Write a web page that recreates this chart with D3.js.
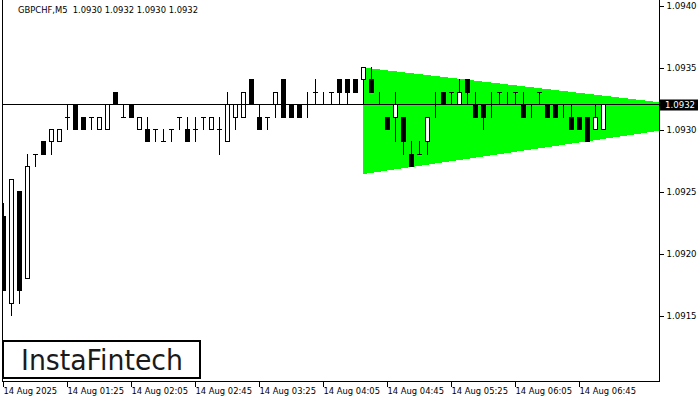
<!DOCTYPE html>
<html><head><meta charset="utf-8">
<script src="https://cdn.jsdelivr.net/npm/d3@7"></script>
<style>
html,body{margin:0;padding:0;background:#fff;}
svg{display:block;}
text{font-family:"DejaVu Sans",sans-serif;}
</style></head>
<body>
<svg id="chart" width="700" height="400"></svg>
<script>
// ---- data ----
const title = "GBPCHF,M5  1.0930 1.0932 1.0930 1.0932";
const opens  = [1.0923,1.0916,1.0925,1.0918,1.0928,1.0929,1.0929,1.0929,1.0931,1.0932,1.0931,1.0931,1.0930,1.0930,1.0933,1.0931,1.0932,1.0930,1.0930,1.0930,1.0929,1.0930,1.0931,1.0930,1.0930,1.0931,1.0930,1.0930,1.0929,1.0931,1.0931,1.0934,1.0931,1.0931,1.0932,1.0934,1.0932,1.0932,1.0932,1.0933,1.0932,1.0933,1.0934,1.0934,1.0934,1.0934,1.0934,1.0932,1.0931,1.0931,1.0931,1.0928,1.0928,1.0929,1.0932,1.0933,1.0933,1.0932,1.0934,1.0932,1.0932,1.0932,1.0933,1.0932,1.0933,1.0932,1.0932,1.0933,1.0932,1.0932,1.0932,1.0931,1.0931,1.0931,1.0930,1.0930];
const highs  = [1.0924,1.0926,1.0925,1.0928,1.0928,1.0929,1.0930,1.0930,1.0932,1.0932,1.0931,1.0931,1.0931,1.0932,1.0933,1.0932,1.0932,1.0931,1.0931,1.0930,1.0930,1.0930,1.0931,1.0931,1.0931,1.0931,1.0931,1.0931,1.0933,1.0932,1.0933,1.0934,1.0932,1.0931,1.0933,1.0934,1.0932,1.0932,1.0933,1.0934,1.0933,1.0933,1.0934,1.0934,1.0934,1.0935,1.0935,1.0933,1.0931,1.0933,1.0931,1.0929,1.0929,1.0931,1.0933,1.0933,1.0933,1.0934,1.0934,1.0933,1.0932,1.0933,1.0933,1.0933,1.0933,1.0933,1.0932,1.0933,1.0932,1.0932,1.0932,1.0932,1.0931,1.0931,1.0932,1.0932];
const lows   = [1.0917,1.0915,1.0916,1.0918,1.0927,1.0928,1.0928,1.0929,1.0930,1.0930,1.0930,1.0930,1.0930,1.0930,1.0932,1.0931,1.0931,1.0930,1.0929,1.0929,1.0929,1.0929,1.0930,1.0929,1.0929,1.0930,1.0930,1.0928,1.0929,1.0930,1.0931,1.0932,1.0930,1.0930,1.0931,1.0931,1.0931,1.0931,1.0931,1.0932,1.0932,1.0932,1.0932,1.0932,1.0933,1.0932,1.0933,1.0932,1.0930,1.0929,1.0928,1.0927,1.0928,1.0928,1.0931,1.0932,1.0932,1.0932,1.0932,1.0931,1.0930,1.0931,1.0932,1.0932,1.0932,1.0931,1.0931,1.0932,1.0931,1.0931,1.0931,1.0930,1.0930,1.0929,1.0930,1.0930];
const closes = [1.0917,1.0926,1.0917,1.0927,1.0928,1.0928,1.0930,1.0930,1.0931,1.0930,1.0930,1.0931,1.0931,1.0932,1.0932,1.0931,1.0931,1.0931,1.0929,1.0930,1.0929,1.0930,1.0931,1.0929,1.0930,1.0931,1.0931,1.0930,1.0932,1.0932,1.0933,1.0932,1.0930,1.0931,1.0933,1.0931,1.0931,1.0931,1.0932,1.0933,1.0932,1.0933,1.0933,1.0933,1.0933,1.0935,1.0933,1.0932,1.0930,1.0932,1.0929,1.0927,1.0928,1.0931,1.0932,1.0932,1.0933,1.0933,1.0933,1.0931,1.0931,1.0932,1.0933,1.0932,1.0933,1.0931,1.0932,1.0933,1.0931,1.0931,1.0932,1.0930,1.0930,1.0929,1.0931,1.0932];
const timeTickIdx    = [0,8,16,24,32,40,48,56,64,72];
const timeTickLabels = ["14 Aug 2025","14 Aug 01:25","14 Aug 02:05","14 Aug 02:45","14 Aug 03:25","14 Aug 04:05","14 Aug 04:45","14 Aug 05:25","14 Aug 06:05","14 Aug 06:45"];
const priceTicks = [1.0940,1.0935,1.0930,1.0925,1.0920,1.0915];
const currentPrice = 1.0932;
// triangle pattern (bar index, upper price, lower price)
const patternIdx   = [44.9, 82];
const patternUpper = [1.09350, 1.09322];
const patternLower = [1.09264, 1.09299];
const logoText = "InstaFintech";

// ---- layout ----
const svg = d3.select("#chart");
const plotL = 2.5, plotR = 659.5, plotB = 381.5;
const x = d3.scaleLinear().domain([0, 82]).range([3.5, 659.5]);
const y = d3.scaleLinear().domain([1.0915, 1.0940]).range([315.5, 5.5]);
const py = v => Math.round(y(v) - 0.5) + 0.5;
const px = i => Math.round(x(i) - 0.5) + 0.5;

svg.append("defs").append("clipPath").attr("id","plot")
  .append("rect").attr("x",plotL).attr("y",0).attr("width",plotR-plotL).attr("height",plotB);

// pattern polygon
const poly = [[patternIdx[0],patternUpper[0]],[patternIdx[1],patternUpper[1]],[patternIdx[1],patternLower[1]],[patternIdx[0],patternLower[0]]];
svg.append("path")
  .attr("clip-path","url(#plot)")
  .attr("d", d3.line().x(d=>x(d[0])).y(d=>y(d[1])).curve(d3.curveLinearClosed)(poly))
  .attr("fill","#00ff00").attr("shape-rendering","crispEdges");

// candles
const bars = opens.map((o,i)=>({i,o,h:highs[i],l:lows[i],c:closes[i]}));
const g = svg.append("g").attr("clip-path","url(#plot)");
g.selectAll("line.wick").data(bars).join("line").attr("class","wick")
  .attr("x1",d=>px(d.i)).attr("x2",d=>px(d.i))
  .attr("y1",d=>py(d.h)-0.5).attr("y2",d=>py(d.l)+0.5)
  .attr("stroke","#000").attr("stroke-width",1).attr("shape-rendering","crispEdges");
g.selectAll("rect.body").data(bars.filter(d=>d.o!==d.c)).join("rect").attr("class","body")
  .attr("x",d=>px(d.i)-2).attr("width",4)
  .attr("y",d=>py(Math.max(d.o,d.c))).attr("height",d=>py(Math.min(d.o,d.c))-py(Math.max(d.o,d.c)))
  .attr("fill",d=>d.c<d.o?"#000":"#fff").attr("stroke","#000").attr("stroke-width",1)
  .attr("shape-rendering","crispEdges");
g.selectAll("line.doji").data(bars.filter(d=>d.o===d.c)).join("line").attr("class","doji")
  .attr("x1",d=>px(d.i)-2.5).attr("x2",d=>px(d.i)+2.5)
  .attr("y1",d=>py(d.o)).attr("y2",d=>py(d.o))
  .attr("stroke","#000").attr("stroke-width",1).attr("shape-rendering","crispEdges");

// current price line
svg.append("line").attr("x1",plotL).attr("x2",plotR).attr("y1",py(currentPrice)).attr("y2",py(currentPrice))
  .attr("stroke","#000").attr("stroke-width",1).attr("shape-rendering","crispEdges");

// frame
svg.append("path").attr("d",`M${plotL},0V${plotB}H${plotR}V0`).attr("fill","none")
  .attr("stroke","#000").attr("stroke-width",1).attr("shape-rendering","crispEdges");

// right price axis
const yAxis = d3.axisRight(y).tickValues(priceTicks).tickFormat(d3.format(".4f")).tickSize(4).tickPadding(3);
const ya = svg.append("g").attr("transform",`translate(${plotR},0.5)`).call(yAxis);
ya.select(".domain").remove();
ya.selectAll("line").attr("stroke","#000").attr("shape-rendering","crispEdges");
ya.selectAll("text").attr("font-size","8.6px").attr("fill","#000").attr("font-family","DejaVu Sans");

// current price badge
svg.append("rect").attr("x",660).attr("y",py(currentPrice)-5).attr("width",38).attr("height",11).attr("fill","#000");
svg.append("text").attr("x",665).attr("y",py(currentPrice)+3.5).attr("fill","#fff").attr("font-size","8.6px")
  .text(d3.format(".4f")(currentPrice));

// bottom time axis
const xAxis = d3.axisBottom(x).tickValues(timeTickIdx).tickFormat((d,k)=>timeTickLabels[k]).tickSize(5).tickPadding(2);
const xa = svg.append("g").attr("transform",`translate(-0.5,${plotB})`).call(xAxis);
xa.select(".domain").remove();
xa.selectAll("line").attr("stroke","#000").attr("shape-rendering","crispEdges");
xa.selectAll("text").attr("text-anchor","start").attr("dx","0").attr("font-size","8.4px").attr("fill","#000").attr("font-family","DejaVu Sans");

// title
svg.append("text").attr("x",18).attr("y",13).attr("font-size","8.4px").attr("fill","#000")
  .style("white-space","pre").text(title);

// logo
svg.append("rect").attr("x",3).attr("y",341).attr("width",197).attr("height",37)
  .attr("fill","#fff").attr("stroke","#000").attr("stroke-width",2);
svg.append("text").attr("x",21).attr("y",370).attr("font-family","Lato, sans-serif").attr("font-size","29px")
  .attr("font-weight",500).attr("fill","#1a1a1a").attr("textLength",162).attr("lengthAdjust","spacingAndGlyphs").text(logoText);
</script>
</body></html>
